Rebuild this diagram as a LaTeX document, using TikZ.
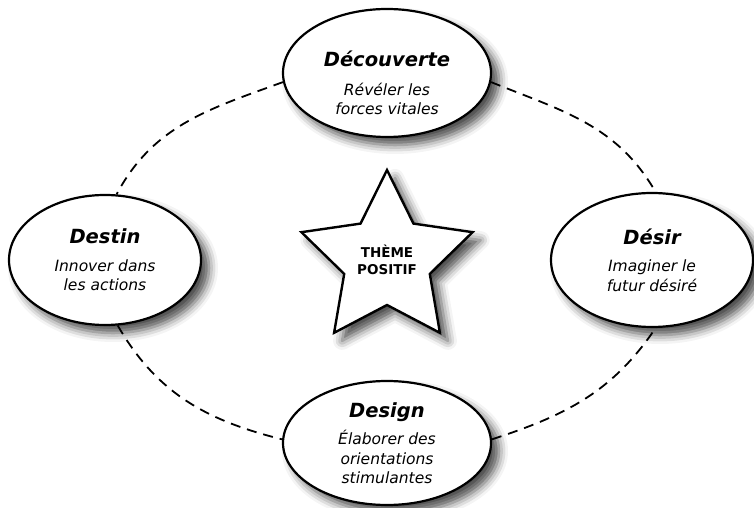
\documentclass[tikz,border=0pt]{standalone}
\usepackage{fontspec}
\setmainfont{DejaVu Sans}
\usetikzlibrary{shapes.geometric,shadows.blur}
\newcommand\titre[1]{{\bfseries\fontsize{19.5}{24}\selectfont #1}}
\newcommand\soustitre{\itshape\fontsize{15.5}{19.5}\selectfont}
\newcommand\theme{\bfseries\fontsize{13.5}{17}\selectfont}
\begin{document}
\begin{tikzpicture}[x=1pt,y=1pt,
  ombre/.style={blur shadow={shadow xshift=8pt,shadow yshift=-8pt,shadow blur radius=9pt,shadow opacity=70}},
  etape/.style={ellipse,draw,line width=2.2pt,fill=white,ombre,minimum width=208pt,minimum height=128pt,
    inner sep=0pt,align=center,font=\soustitre},
  centre/.style={star,star points=5,star point ratio=2,minimum size=180pt,draw,line width=2.4pt,fill=white,ombre,
    inner sep=0pt,align=center,font=\theme},
  lien/.style={line width=1.8pt,dash pattern=on 10pt off 7pt}]
\useasboundingbox (0,0) rectangle (754,508);
\node[etape] (decouverte) at (387,435) {\rule{0pt}{36pt}\titre{Découverte}\\[9pt]Révéler les\\forces vitales};
\node[etape,minimum width=192pt,minimum height=130pt] (destin) at (105,248) {\titre{Destin}\\[8pt]Innover dans\\les actions};
\node[etape,minimum width=202pt,minimum height=134pt] (desir) at (652,248) {\titre{Désir}\\[8pt]Imaginer le\\futur désiré};
\node[etape,minimum height=124pt] (design) at (387,65) {\titre{Design}\\[8pt]Élaborer des\\orientations\\stimulantes};
\node[centre] (theme) at (387,248) {THÈME\\POSITIF};
\draw[lien] (decouverte.-5) to[out=-22,in=120] (desir.87);
\draw[lien] (decouverte.185) to[out=200,in=62] (destin.80);
\draw[lien] (destin.-79) to[out=-60,in=166] (design.178);
\draw[lien] (design.2) to[out=18,in=-124] (desir.-87);
\end{tikzpicture}
\end{document}
